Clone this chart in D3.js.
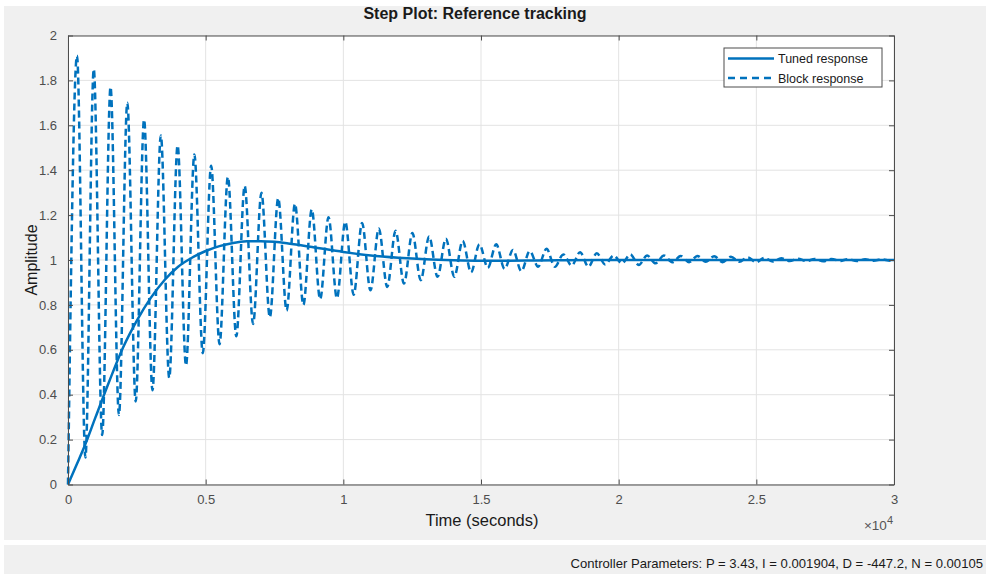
<!DOCTYPE html>
<html>
<head>
<meta charset="utf-8">
<script src="https://cdn.jsdelivr.net/npm/d3@7"></script>
<style>
  html, body { margin: 0; padding: 0; background: #ffffff; }
  svg { display: block; }
</style>
</head>
<body>
<script>
// ---- Data ----
const titleText = "Step Plot: Reference tracking";
const xLabel = "Time (seconds)";
const yLabel = "Amplitude";
const footerText = "Controller Parameters: P = 3.43, I = 0.001904, D = -447.2, N = 0.00105";
const seriesNames = ["Tuned response", "Block response"];

const xTicks = [0, 5000, 10000, 15000, 20000, 25000, 30000];
const xTickLabels = ["0", "0.5", "1", "1.5", "2", "2.5", "3"];
const yTicks = [0, 0.2, 0.4, 0.6, 0.8, 1, 1.2, 1.4, 1.6, 1.8, 2];
const yTickLabels = ["0", "0.2", "0.4", "0.6", "0.8", "1", "1.2", "1.4", "1.6", "1.8", "2"];

// Tuned response (time in seconds, amplitude)
const tunedTime = [0, 300, 600, 1000, 1500, 2000, 2500, 3000, 3500, 4000, 4500, 5000, 5500, 6000, 6500, 7000, 7500, 8000, 9000, 10000, 11000, 12000, 13000, 14000, 15000, 16000, 17000, 18000, 20000, 22000, 25000, 30000];
const tunedValue = [0, 0.085, 0.17, 0.30, 0.46, 0.61, 0.73, 0.83, 0.91, 0.97, 1.01, 1.04, 1.062, 1.076, 1.083, 1.084, 1.081, 1.074, 1.055, 1.036, 1.02, 1.01, 1.003, 0.999, 0.997, 0.997, 0.998, 0.999, 1.0, 1.0, 1.0, 1.0];

// Block response: start, then alternating peaks and troughs
const blockTime = [0,
  327, 632, 936, 1241, 1545, 1850, 2154, 2459, 2763, 3068,
  3372, 3677, 3981, 4286, 4590, 4895, 5199, 5504, 5808, 6113,
  6417, 6722, 7026, 7331, 7635, 7940, 8244, 8549, 8853, 9158,
  9462, 9767, 10071, 10376, 10680, 10985, 11289, 11594, 11898, 12203,
  12507, 12812, 13116, 13421, 13725, 14030, 14334, 14639, 14943, 15248,
  15552, 15857, 16161, 16466, 16770, 17075, 17379, 17684, 17988, 18293,
  18597, 18902, 19206, 19511, 19815, 20120, 20424, 20729, 21033, 21338,
  21642, 21947, 22251, 22556, 22860, 23165, 23469, 23774, 24078, 24383,
  24687, 24992, 25296, 25601, 25905, 26210, 26514, 26819, 27123, 27428,
  27732, 28037, 28341, 28646, 28950, 29255, 29559, 29864, 30000];
const blockValue = [0,
  1.91, 0.12, 1.85, 0.22, 1.77, 0.31, 1.70, 0.37, 1.625, 0.42,
  1.555, 0.475, 1.51, 0.53, 1.47, 0.585, 1.42, 0.625, 1.37, 0.66,
  1.33, 0.715, 1.30, 0.745, 1.275, 0.775, 1.25, 0.80, 1.225, 0.825,
  1.19, 0.83, 1.17, 0.845, 1.165, 0.865, 1.14, 0.88, 1.13, 0.895,
  1.12, 0.91, 1.105, 0.925, 1.095, 0.925, 1.085, 0.945, 1.07, 0.965,
  1.07, 0.96, 1.045, 0.95, 1.04, 0.97, 1.05, 0.97, 1.025, 0.975,
  1.035, 0.97, 1.03, 0.98, 1.02, 0.985, 1.025, 0.978, 1.02, 0.985,
  1.02, 0.99, 1.018, 0.99, 1.018, 0.992, 1.017, 0.99, 1.015, 0.992,
  1.012, 0.99, 1.01, 0.993, 1.008, 0.995, 1.006, 0.995, 1.005, 0.994,
  1.005, 0.996, 1.004, 0.995, 1.003, 0.997, 1.003, 0.997, 1.0];

// ---- Drawing ----
const W = 986, H = 574;
const blue = "#0072BD";
const FONT = "'Liberation Sans', Arial, sans-serif";
const svg = d3.select("body").append("svg").attr("width", W).attr("height", H);

// figure backgrounds
svg.append("rect").attr("x", 4).attr("y", 6).attr("width", W - 4).attr("height", 534).attr("fill", "#f0f0f0");
svg.append("rect").attr("x", 4).attr("y", 545).attr("width", W - 4).attr("height", H - 545).attr("fill", "#f0f0f0");

const x = d3.scaleLinear().domain([0, 30000]).range([68, 894]);
const y = d3.scaleLinear().domain([0, 2]).range([484.5, 35.5]);

// plot area
svg.append("rect").attr("x", x(0)).attr("y", y(2)).attr("width", x(30000) - x(0)).attr("height", y(0) - y(2)).attr("fill", "#ffffff");

// grid
const grid = svg.append("g");
grid.selectAll("line.gx").data(xTicks).join("line")
  .attr("x1", d => x(d)).attr("x2", d => x(d)).attr("y1", y(0)).attr("y2", y(2))
  .attr("stroke", "#e3e3e3").attr("stroke-width", 1);
grid.selectAll("line.gy").data(yTicks).join("line")
  .attr("x1", x(0)).attr("x2", x(30000)).attr("y1", d => y(d)).attr("y2", d => y(d))
  .attr("stroke", "#e3e3e3").attr("stroke-width", 1);

// lines
const tunedLine = d3.line().x((d, i) => x(tunedTime[i])).y(d => y(d)).curve(d3.curveMonotoneX);
const blockLine = d3.line().x((d, i) => x(blockTime[i])).y(d => y(d)).curve(d3.curveMonotoneX);

svg.append("clipPath").attr("id", "clip").append("rect")
  .attr("x", x(0) - 2).attr("y", y(2)).attr("width", x(30000) - x(0) + 2).attr("height", y(0) - y(2) + 2);

svg.append("path").datum(tunedValue).attr("d", tunedLine)
  .attr("fill", "none").attr("stroke", blue).attr("stroke-width", 2.5).attr("clip-path", "url(#clip)");
svg.append("path").datum(blockValue).attr("d", blockLine)
  .attr("fill", "none").attr("stroke", blue).attr("stroke-width", 2.5)
  .attr("stroke-dasharray", "7,4").attr("clip-path", "url(#clip)");

// axes
const axisColor = "#4d4d4d";
const xAxis = d3.axisBottom(x).tickValues(xTicks).tickFormat((d, i) => xTickLabels[i]).tickSizeInner(-5).tickSizeOuter(0).tickPadding(10);
const yAxis = d3.axisLeft(y).tickValues(yTicks).tickFormat((d, i) => yTickLabels[i]).tickSizeInner(-5).tickSizeOuter(0).tickPadding(11);
const xTop = d3.axisTop(x).tickValues(xTicks).tickFormat("").tickSizeInner(-5).tickSizeOuter(0);
const yRight = d3.axisRight(y).tickValues(yTicks).tickFormat("").tickSizeInner(-5).tickSizeOuter(0);

function styleAxis(g) {
  g.select(".domain").attr("stroke", axisColor);
  g.selectAll(".tick line").attr("stroke", axisColor);
  g.selectAll(".tick text").attr("fill", "#4d4d4d").attr("font-family", FONT).attr("font-size", 13);
}
svg.append("g").attr("transform", `translate(0,${y(0)})`).call(xAxis).call(styleAxis);
svg.append("g").attr("transform", `translate(${x(0)},0)`).call(yAxis).call(styleAxis);
svg.append("g").attr("transform", `translate(0,${y(2)})`).call(xTop).call(styleAxis);
svg.append("g").attr("transform", `translate(${x(30000)},0)`).call(yRight).call(styleAxis);

// title & labels
svg.append("text").attr("x", 475).attr("y", 19).attr("text-anchor", "middle")
  .attr("font-family", FONT).attr("font-weight", "bold").attr("font-size", 16)
  .attr("fill", "#1a1a1a").text(titleText);
svg.append("text").attr("x", 482).attr("y", 526).attr("text-anchor", "middle")
  .attr("font-family", FONT).attr("font-size", 16.5)
  .attr("fill", "#1a1a1a").text(xLabel);
svg.append("text").attr("transform", `translate(37,${(y(0) + y(2)) / 2}) rotate(-90)`).attr("text-anchor", "middle")
  .attr("font-family", FONT).attr("font-size", 16)
  .attr("fill", "#1a1a1a").text(yLabel);

// exponent label x10^4
const expo = svg.append("text").attr("x", 893).attr("y", 530).attr("text-anchor", "end")
  .attr("font-family", FONT).attr("font-size", 13.5).attr("fill", "#555");
expo.append("tspan").text("\u00d710");
expo.append("tspan").attr("dy", -6).attr("font-size", 11).text("4");

// legend
const lg = svg.append("g").attr("transform", "translate(724,48)");
lg.append("rect").attr("width", 158).attr("height", 39).attr("fill", "#ffffff").attr("stroke", "#4d4d4d").attr("stroke-width", 1);
const legendRows = [{ name: seriesNames[0], dash: null }, { name: seriesNames[1], dash: "7,5" }];
legendRows.forEach((r, i) => {
  const yy = 10.5 + i * 19.5;
  lg.append("line").attr("x1", 4).attr("x2", 50).attr("y1", yy).attr("y2", yy)
    .attr("stroke", blue).attr("stroke-width", 2.5).attr("stroke-dasharray", r.dash);
  lg.append("text").attr("x", 54).attr("y", yy + 4.5)
    .attr("font-family", FONT).attr("font-size", 12.5).attr("fill", "#1a1a1a").text(r.name);
});

// footer
svg.append("text").attr("x", 983).attr("y", 568).attr("text-anchor", "end")
  .attr("font-family", FONT).attr("font-size", 13.1).attr("fill", "#1a1a1a").text(footerText);
</script>
</body>
</html>
